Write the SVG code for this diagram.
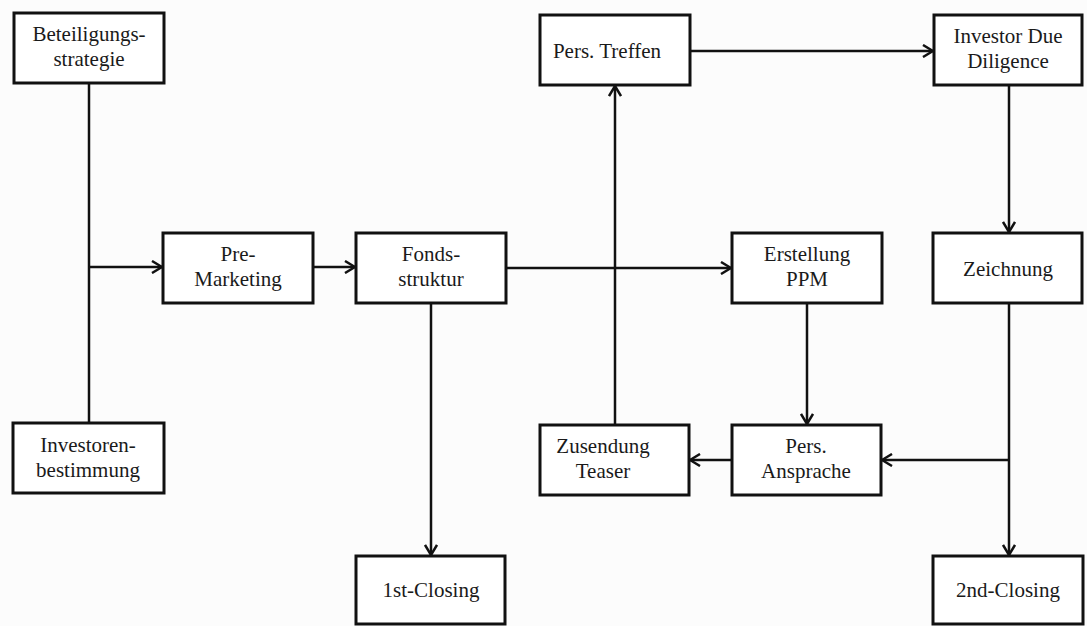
<svg xmlns="http://www.w3.org/2000/svg" width="1087" height="626" viewBox="0 0 1087 626">
<style>
.box{fill:#fff;stroke:#111;stroke-width:3}
.lbl{font-family:"Liberation Serif","Times New Roman",serif;font-size:21px;fill:#1a1a1a;text-anchor:middle}
.ln{fill:none;stroke:#111;stroke-width:2.5}
</style>
<defs>
<marker id="ah" viewBox="0 0 12 14" refX="11" refY="7" markerWidth="12" markerHeight="14" markerUnits="userSpaceOnUse" orient="auto">
<path d="M1,1 L11,7 L1,13" fill="none" stroke="#111" stroke-width="2.5"/>
</marker>
</defs>
<rect width="1087" height="626" fill="#fcfcfc"/>
<g id="connectors">
<path class="ln" d="M89,83 V423"/>
<path class="ln" d="M89,267 H162" marker-end="url(#ah)"/>
<path class="ln" d="M313,267 H355" marker-end="url(#ah)"/>
<path class="ln" d="M506,268 H731" marker-end="url(#ah)"/>
<path class="ln" d="M431,303 V555" marker-end="url(#ah)"/>
<path class="ln" d="M615,425 V86" marker-end="url(#ah)"/>
<path class="ln" d="M690,51 H933" marker-end="url(#ah)"/>
<path class="ln" d="M1009,85 V232" marker-end="url(#ah)"/>
<path class="ln" d="M1009,303 V555" marker-end="url(#ah)"/>
<path class="ln" d="M1009,460 H882" marker-end="url(#ah)"/>
<path class="ln" d="M807,303 V424" marker-end="url(#ah)"/>
<path class="ln" d="M732,460 H690" marker-end="url(#ah)"/>
</g>
<g id="beteiligungsstrategie"><rect class="box" x="14" y="13" width="150" height="70"/><text class="lbl" x="89" y="41">Beteiligungs-</text><text class="lbl" x="89" y="66">strategie</text></g>
<g id="investorenbestimmung"><rect class="box" x="13" y="423" width="151" height="70"/><text class="lbl" x="88" y="452">Investoren-</text><text class="lbl" x="88" y="477">bestimmung</text></g>
<g id="pre-marketing"><rect class="box" x="163" y="233" width="150" height="70"/><text class="lbl" x="238" y="261">Pre-</text><text class="lbl" x="238" y="286">Marketing</text></g>
<g id="fondsstruktur"><rect class="box" x="356" y="233" width="150" height="70"/><text class="lbl" x="431" y="261">Fonds-</text><text class="lbl" x="431" y="286">struktur</text></g>
<g id="first-closing"><rect class="box" x="356" y="556" width="149" height="68"/><text class="lbl" x="431" y="597">1st-Closing</text></g>
<g id="pers-treffen"><rect class="box" x="540" y="15" width="150" height="70"/><text class="lbl" x="607" y="58">Pers. Treffen</text></g>
<g id="erstellung-ppm"><rect class="box" x="732" y="233" width="150" height="70"/><text class="lbl" x="807" y="261">Erstellung</text><text class="lbl" x="807" y="286">PPM</text></g>
<g id="zusendung-teaser"><rect class="box" x="540" y="425" width="149" height="70"/><text class="lbl" x="603" y="453">Zusendung</text><text class="lbl" x="603" y="478">Teaser</text></g>
<g id="pers-ansprache"><rect class="box" x="732" y="425" width="149" height="70"/><text class="lbl" x="806" y="453">Pers.</text><text class="lbl" x="806" y="478">Ansprache</text></g>
<g id="investor-due-diligence"><rect class="box" x="934" y="15" width="148" height="70"/><text class="lbl" x="1008" y="43">Investor Due</text><text class="lbl" x="1008" y="68">Diligence</text></g>
<g id="zeichnung"><rect class="box" x="933" y="233" width="149" height="70"/><text class="lbl" x="1008" y="276">Zeichnung</text></g>
<g id="second-closing"><rect class="box" x="933" y="556" width="150" height="68"/><text class="lbl" x="1008" y="597">2nd-Closing</text></g>
</svg>
